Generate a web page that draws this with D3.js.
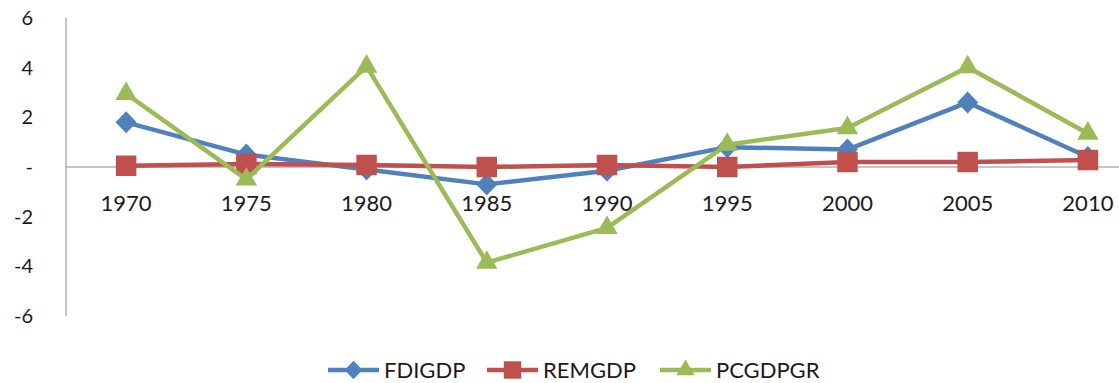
<!DOCTYPE html>
<html>
<head>
<meta charset="utf-8">
<script src="https://cdn.jsdelivr.net/npm/d3@7"></script>
<style>
  html, body { margin: 0; padding: 0; background: #fff; }
  svg { display: block; }
  text { font-family: Lato, "Open Sans", sans-serif; fill: #1a1a1a; }
</style>
</head>
<body>
<svg id="chart" width="1119" height="383"></svg>
<script>
// Years on the category axis
const years = ["1970", "1975", "1980", "1985", "1990", "1995", "2000", "2005", "2010"];

// Series values (percent)
const fdiGdp   = [1.8, 0.5, -0.1, -0.7, -0.15, 0.8, 0.7, 2.6, 0.4];
const remGdp   = [0.05, 0.12, 0.08, 0.0, 0.08, 0.0, 0.2, 0.2, 0.28];
const pcGdpGr  = [2.95, -0.5, 4.05, -3.85, -2.45, 0.9, 1.57, 4.02, 1.35];

const seriesNames = ["FDIGDP", "REMGDP", "PCGDPGR"];
const yTicks = [6, 4, 2, 0, -2, -4, -6];

const series = [
  { name: seriesNames[0], values: fdiGdp,  color: "#4F81BD", symbol: "diamond" },
  { name: seriesNames[1], values: remGdp,  color: "#C0504D", symbol: "square" },
  { name: seriesNames[2], values: pcGdpGr, color: "#9BBB59", symbol: "triangle" }
];

const svg = d3.select("#chart");

const x = d3.scalePoint().domain(years).range([66, 1148]).padding(0.5);
const y = d3.scaleLinear().domain([-6, 6]).range([316, 18]);

// Vertical value axis line
svg.append("line")
  .attr("x1", 66).attr("x2", 66)
  .attr("y1", y(6)).attr("y2", y(-6))
  .attr("stroke", "#8a8a8a").attr("stroke-width", 1);

// Value tick labels ("-" for zero)
svg.append("g").selectAll("text")
  .data(yTicks)
  .join("text")
  .attr("x", 33)
  .attr("y", d => y(d))
  .attr("dy", "0.35em")
  .attr("text-anchor", "end")
  .attr("font-size", 20)
  .text(d => d === 0 ? "-" : String(d));

// Horizontal category axis at zero
svg.append("line")
  .attr("x1", 66).attr("x2", 1119)
  .attr("y1", y(0)).attr("y2", y(0))
  .attr("stroke", "#8a8a8a").attr("stroke-width", 1);

// Category labels
svg.append("g").selectAll("text")
  .data(years)
  .join("text")
  .attr("x", d => x(d))
  .attr("y", 211)
  .attr("text-anchor", "middle")
  .attr("font-size", 22)
  .text(d => d);

// Marker shapes, scaled by k (1 on the plot, smaller in the legend)
function symbolPath(kind, k = 1) {
  if (kind === "diamond") {
    const w = 10.5 * k, h = 11 * k;
    return `M0,${-h}L${w},0L0,${h}L${-w},0Z`;
  }
  if (kind === "square") return d3.symbol(d3.symbolSquare, 420 * k * k)();
  return d3.symbol(d3.symbolTriangle, 200 * k * k)();
}

const line = d3.line()
  .x((d, i) => x(years[i]))
  .y(d => y(d));

series.forEach(s => {
  const g = svg.append("g");
  g.append("path")
    .attr("d", line(s.values))
    .attr("fill", "none")
    .attr("stroke", s.color)
    .attr("stroke-width", 4.5)
    .attr("stroke-linejoin", "round");
  g.selectAll("path.mark")
    .data(s.values)
    .join("path")
    .attr("class", "mark")
    .attr("d", symbolPath(s.symbol))
    .attr("transform", (d, i) => `translate(${x(years[i])},${y(d)})`)
    .attr("fill", s.color);
});

// Legend
const legendX = [328, 487, 660];
const legendY = 370;
series.forEach((s, i) => {
  const g = svg.append("g").attr("transform", `translate(${legendX[i]},${legendY})`);
  g.append("line")
    .attr("x1", 0).attr("x2", 51)
    .attr("stroke", s.color).attr("stroke-width", 4.5);
  g.append("path")
    .attr("d", symbolPath(s.symbol, 0.85))
    .attr("transform", "translate(25.5,0)")
    .attr("fill", s.color);
  g.append("text")
    .attr("x", 56)
    .attr("y", 0)
    .attr("dy", "0.36em")
    .attr("font-size", 22)
    .text(s.name);
});
</script>
</body>
</html>
